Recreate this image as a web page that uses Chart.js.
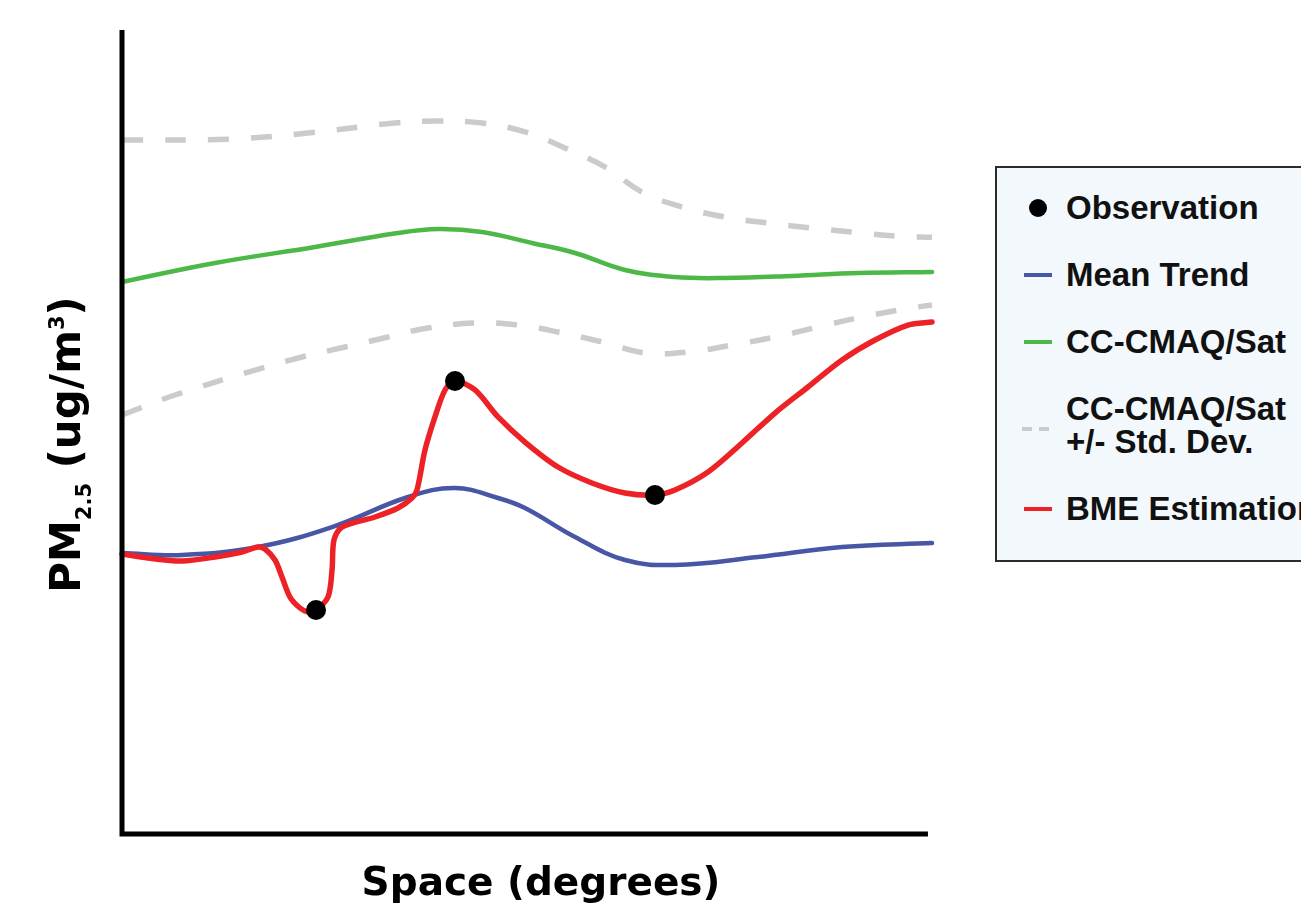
<!DOCTYPE html>
<html>
<head>
<meta charset="utf-8">
<script src="https://cdn.jsdelivr.net/npm/chart.js@4/dist/chart.umd.min.js"></script>
<style>
  html, body { margin: 0; padding: 0; background: #fff; overflow: hidden; }
  #wrap { position: relative; width: 1301px; height: 908px; overflow: hidden; }
  #legend {
    position: absolute; left: 995px; top: 166px; width: 340px; height: 396px;
    box-sizing: border-box; border: 2px solid #2b2b2b; background: #f3f8fc;
    padding: 23px 0 0 27px; display: flex; flex-direction: column; gap: 34px;
    font: bold 33px "Liberation Sans", Arial, sans-serif; color: #111;
  }
  .item { display: flex; align-items: center; line-height: 33px; white-space: pre; }
  .sym { width: 28px; height: 18px; margin-right: 14px; position: relative; flex: none; }
  .sym span { position: absolute; }
</style>
</head>
<body>
<div id="wrap">
  <canvas id="c" width="1301" height="908"></canvas>
  <div id="legend"></div>
</div>
<script>
// Space coordinate (relative units, 0-100) and PM2.5 level (relative units, 0-100)

// Monitoring station observations
const obsX = [23.95, 41.11, 65.80];
const obsY = [27.84, 56.43, 42.20];

// Mean trend
const meanX = [0, 7.41, 16.79, 25.93, 35.31, 41.11, 46.42, 49.75, 55.93, 62.10, 68.27, 78.52, 88.89, 100];
const meanY = [34.96, 34.71, 35.71, 38.20, 41.95, 43.07, 41.82, 40.57, 36.95, 34.08, 33.46, 34.46, 35.71, 36.20];

// CC-CMAQ/Sat model field
const satX = [0, 11.48, 23.83, 34.07, 39.01, 44.44, 50.62, 55.93, 62.10, 68.27, 74.44, 82.72, 90.86, 100];
const satY = [68.79, 71.16, 73.16, 74.91, 75.41, 75.03, 73.66, 72.41, 70.29, 69.41, 69.29, 69.54, 69.91, 70.04];

// CC-CMAQ/Sat + 1 standard deviation
const sdUpperX = [0, 13.58, 22.96, 33.70, 39.01, 44.44, 49.75, 54.69, 59.63, 64.20, 69.14, 74.44, 79.75, 85.19, 90.49, 95.80, 100];
const sdUpperY = [86.52, 86.64, 87.39, 88.64, 88.89, 88.64, 87.52, 85.52, 83.15, 80.02, 78.15, 76.90, 76.15, 75.53, 75.00, 74.51, 74.38];

// CC-CMAQ/Sat - 1 standard deviation
const sdLowerX = [0, 6.54, 17.28, 22.22, 27.53, 32.84, 37.78, 43.58, 48.89, 53.83, 59.26, 64.57, 69.88, 75.31, 80.62, 85.93, 91.36, 96.67, 100];
const sdLowerY = [52.18, 54.68, 58.05, 59.43, 60.67, 61.92, 63.05, 63.67, 63.42, 62.55, 61.30, 59.93, 60.05, 60.92, 61.92, 63.17, 64.42, 65.42, 65.92];

// BME estimation
const bmeX = [0, 3.21, 7.41, 11.48, 14.81, 16.79, 17.65, 18.89, 19.75, 20.74, 21.98, 22.96, 23.95, 25.43, 25.93, 26.17, 27.16,
              31.23, 34.07, 35.80, 36.42, 37.41, 38.64, 39.88, 41.11, 43.58, 46.42, 49.75, 53.83, 58.02, 62.10, 65.80,
              68.27, 72.35, 76.54, 80.62, 84.69, 88.89, 92.96, 97.04, 100];
const bmeY = [34.83, 34.33, 33.96, 34.46, 35.08, 35.71, 35.46, 34.08, 31.96, 29.46, 28.09, 27.59, 27.84, 29.46, 32.83, 36.58, 38.20,
              39.45, 40.57, 41.82, 42.82, 47.82, 51.94, 55.31, 56.43, 55.31, 51.94, 48.81, 45.69, 43.70, 42.45, 42.20,
              42.82, 45.07, 48.69, 52.43, 55.68, 59.05, 61.55, 63.42, 63.80];

const pts = (xs, ys) => xs.map((x, i) => ({ x: x, y: ys[i] }));

const BLUE = '#4756a5', GREEN = '#4cb848', RED = '#ec2227', GREY = '#cbcbcb';

const smooth = {
  pointRadius: 0, pointHoverRadius: 0, fill: false, clip: false,
  tension: 0.4, borderCapStyle: 'round', borderJoinStyle: 'round'
};

// Black axis lines on the left and bottom
const axisLines = {
  id: 'axisLines',
  afterDatasetsDraw(chart) {
    const { ctx, chartArea, scales } = chart;
    ctx.save();
    ctx.strokeStyle = '#000';
    ctx.lineWidth = 5;
    ctx.lineCap = 'butt';
    ctx.beginPath();
    ctx.moveTo(chartArea.left, chartArea.top - 2);
    ctx.lineTo(chartArea.left, chartArea.bottom + 3.5);
    ctx.moveTo(chartArea.left - 2.5, chartArea.bottom + 1);
    ctx.lineTo(scales.x.getPixelForValue(99.5), chartArea.bottom + 1);
    ctx.stroke();
    ctx.restore();
  }
};

// Axis titles (the y title carries a subscript and a superscript)
const yTitleParts = [
  { text: 'PM', size: 42, shift: 0 },
  { text: '2.5', size: 21, shift: 11 },
  { text: ' (ug/m', size: 42, shift: 0 },
  { text: '3', size: 21, shift: -16 },
  { text: ')', size: 42, shift: 0 }
];
const axisTitles = {
  id: 'axisTitles',
  afterDraw(chart) {
    const { ctx, chartArea } = chart;
    const fam = '"DejaVu Sans", sans-serif';
    ctx.save();
    ctx.fillStyle = '#000';
    ctx.textBaseline = 'alphabetic';
    // x title
    ctx.font = 'bold 39px ' + fam;
    ctx.textAlign = 'center';
    ctx.fillText('Space (degrees)', (chartArea.left + chartArea.right) / 2 + 14, chartArea.bottom + 62);
    // y title
    ctx.textAlign = 'left';
    let total = 0;
    yTitleParts.forEach(p => { ctx.font = 'bold ' + p.size + 'px ' + fam; total += ctx.measureText(p.text).width; });
    ctx.translate(chartArea.left - 42, (chartArea.top + chartArea.bottom) / 2 + 12);
    ctx.rotate(-Math.PI / 2);
    let x = -total / 2;
    yTitleParts.forEach(p => {
      ctx.font = 'bold ' + p.size + 'px ' + fam;
      ctx.fillText(p.text, x, p.shift);
      x += ctx.measureText(p.text).width;
    });
    ctx.restore();
  }
};

// Legend built from the chart's datasets
const htmlLegend = {
  id: 'htmlLegend',
  afterUpdate(chart) {
    const box = document.getElementById('legend');
    box.innerHTML = '';
    chart.data.datasets.forEach(ds => {
      if (!ds.label) return;
      const item = document.createElement('div');
      item.className = 'item';
      const sym = document.createElement('div');
      sym.className = 'sym';
      if (ds.showLine === false) {
        sym.innerHTML = '<span style="left:5px;top:0;width:18px;height:18px;border-radius:50%;background:' + ds.pointBackgroundColor + '"></span>';
      } else if (ds.borderDash && ds.borderDash.length) {
        sym.style.top = '4px';
        sym.innerHTML = '<span style="left:-2px;top:7px;width:10px;height:4px;background:' + ds.borderColor + '"></span>' +
                        '<span style="left:15px;top:7px;width:10px;height:4px;background:' + ds.borderColor + '"></span>';
      } else {
        sym.innerHTML = '<span style="left:0;top:7px;width:28px;height:4px;background:' + ds.borderColor + '"></span>';
      }
      const txt = document.createElement('div');
      txt.textContent = ds.label;
      item.appendChild(sym);
      item.appendChild(txt);
      box.appendChild(item);
    });
  }
};

new Chart(document.getElementById('c'), {
  type: 'line',
  data: {
    datasets: [
      { label: 'Observation', data: pts(obsX, obsY), showLine: false, pointRadius: 10, pointHoverRadius: 10,
        pointBackgroundColor: '#000', pointBorderWidth: 0, borderColor: '#000', order: 0, clip: false },
      Object.assign({ label: 'Mean Trend', data: pts(meanX, meanY), borderColor: BLUE, borderWidth: 4.5, order: 2 }, smooth),
      Object.assign({ label: 'CC-CMAQ/Sat', data: pts(satX, satY), borderColor: GREEN, borderWidth: 4.5, order: 3 }, smooth),
      Object.assign({ label: 'CC-CMAQ/Sat\n+/- Std. Dev.', data: pts(sdUpperX, sdUpperY), borderColor: GREY, borderWidth: 5.5,
        borderDash: [21, 22], order: 4 }, smooth, { borderCapStyle: 'butt' }),
      Object.assign({ label: '', data: pts(sdLowerX, sdLowerY), borderColor: GREY, borderWidth: 5.5,
        borderDash: [21, 22], order: 4 }, smooth, { borderCapStyle: 'butt' }),
      Object.assign({ label: 'BME Estimation', data: pts(bmeX, bmeY), borderColor: RED, borderWidth: 5.5, order: 1 },
        smooth, { tension: 0.3 })
    ]
  },
  options: {
    responsive: false,
    animation: false,
    events: [],
    layout: { padding: { left: 122, top: 32, right: 369, bottom: 75 } },
    scales: {
      x: { type: 'linear', min: 0, max: 100, display: false },
      y: { type: 'linear', min: 0, max: 100, display: false }
    },
    plugins: { legend: { display: false }, tooltip: { enabled: false } }
  },
  plugins: [axisLines, axisTitles, htmlLegend]
});
</script>
</body>
</html>
